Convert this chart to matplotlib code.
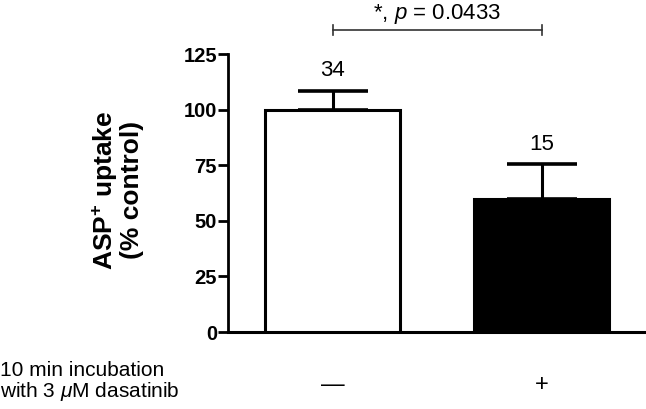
import matplotlib
matplotlib.use('Agg')
import matplotlib.pyplot as plt

plt.rcParams['font.family'] = ['Liberation Sans', 'DejaVu Sans']
plt.rcParams['mathtext.fontset'] = 'custom'
plt.rcParams['mathtext.rm'] = 'Liberation Sans'
plt.rcParams['mathtext.it'] = 'Liberation Sans:italic'
plt.rcParams['mathtext.bf'] = 'Liberation Sans:bold'

# data
groups = ['—', '+']
means = [100, 60]
sem_up = [8.5, 15.5]
n_labels = ['34', '15']
bar_colors = ['white', 'black']
p_text = r'*, $p$ = 0.0433'

fig = plt.figure(figsize=(6.46, 4.09), dpi=100)
ax = fig.add_axes([228/646, 77/409, 418/646, 278/409])

x = [0, 1]
ax.bar(x, means, width=0.65, color=bar_colors, edgecolor='black', linewidth=2.2, zorder=3)
ax.errorbar(x, means, yerr=[[0, 0], sem_up], fmt='none', ecolor='black',
            elinewidth=2.2, capsize=25, capthick=2.6, zorder=2)

for xi, m, e, lab in zip(x, means, sem_up, n_labels):
    ax.text(xi, m + e + 9, lab, ha='center', va='center', fontsize=16)

# significance bracket
yb = 135.8
ax.plot([x[0], x[1]], [yb, yb], color='#333333', lw=1.2, clip_on=False)
for xi in x:
    ax.plot([xi, xi], [yb - 2.2, yb + 2.2], color='#333333', lw=1.2, clip_on=False)
ax.text(0.5, 148.3, p_text, ha='center', va='top', fontsize=16)

ax.set_xlim(-0.5, 1.5)
ax.set_ylim(0, 125)
ax.set_yticks([0, 25, 50, 75, 100, 125])
ax.set_xticks([])
for lab in ax.get_yticklabels():
    lab.set_fontweight('bold')
ax.tick_params(axis='y', length=7, width=2, labelsize=14.5, pad=1)

for s in ['top', 'right']:
    ax.spines[s].set_visible(False)
ax.spines['left'].set_linewidth(2)
ax.spines['bottom'].set_linewidth(2.2)

ax.set_ylabel(r'ASP$^{\mathbf{+}}$ uptake' + '\n(% control)', fontsize=19,
              fontweight='bold', linespacing=1.0)
ax.yaxis.set_label_coords(-0.20, 0.51)

for xi, g in zip(x, groups):
    ax.text(xi, -0.19, g, ha='center', va='center', fontsize=17,
            transform=ax.get_xaxis_transform())

fig.text(0.0, 1 - 382/409, '10 min incubation\nwith 3 $\\mu$M dasatinib',
         ha='left', va='center', fontsize=15, linespacing=1.05)

fig.savefig('out.png', dpi=100)
